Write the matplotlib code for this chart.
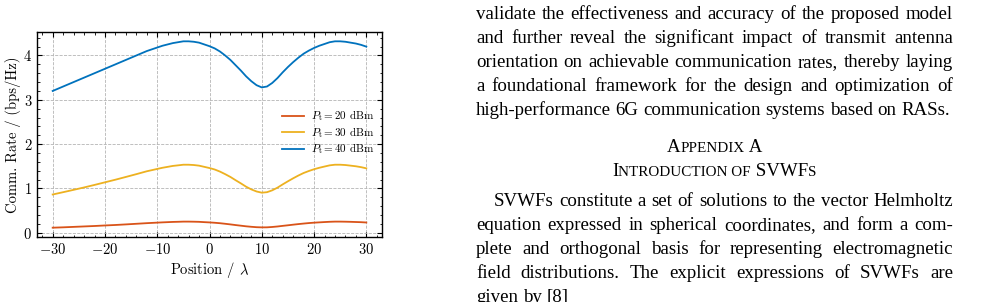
import numpy as np
import matplotlib
matplotlib.use('Agg')
import matplotlib.pyplot as plt
from matplotlib.ticker import MultipleLocator, FuncFormatter

# values
position = [-30, -28, -26, -24, -22, -20, -18, -16, -14, -12, -11, -10, -9, -8, -7, -6, -5, -4, -3, -2, -1, 0,
            1, 2, 3, 4, 5, 6, 7, 8, 9, 10, 11, 12, 13, 14, 15, 16, 17, 18, 19, 20,
            21, 22, 23, 24, 25, 26, 27, 28, 29, 30]
rate_40 = [3.20, 3.30, 3.40, 3.50, 3.60, 3.70, 3.80, 3.90, 4.00, 4.10, 4.14, 4.18, 4.22, 4.25, 4.28, 4.30,
           4.32, 4.32, 4.31, 4.29, 4.25, 4.21,
           4.16, 4.09, 4.00, 3.90, 3.78, 3.66, 3.53, 3.42, 3.33, 3.28, 3.30, 3.38, 3.49, 3.62, 3.74, 3.85,
           3.95, 4.04, 4.11, 4.17,
           4.22, 4.26, 4.30, 4.32, 4.32, 4.31, 4.29, 4.27, 4.24, 4.20]
rate_30 = [0.863, 0.915, 0.968, 1.022, 1.079, 1.138, 1.197, 1.259, 1.322, 1.387, 1.413, 1.440, 1.466, 1.487,
           1.508, 1.521, 1.535, 1.535, 1.528, 1.514, 1.487, 1.460,
           1.427, 1.380, 1.322, 1.259, 1.185, 1.114, 1.039, 0.978, 0.931, 0.904, 0.915, 0.957, 1.017, 1.091,
           1.161, 1.228, 1.291, 1.348, 1.393, 1.433,
           1.466, 1.494, 1.521, 1.535, 1.535, 1.528, 1.514, 1.500, 1.480, 1.453]
rate_20 = [0.114, 0.122, 0.132, 0.142, 0.152, 0.164, 0.175, 0.188, 0.202, 0.216, 0.222, 0.228, 0.234, 0.239,
           0.244, 0.247, 0.251, 0.251, 0.249, 0.246, 0.239, 0.233,
           0.225, 0.215, 0.202, 0.188, 0.173, 0.159, 0.145, 0.134, 0.125, 0.121, 0.122, 0.130, 0.141, 0.155,
           0.168, 0.182, 0.195, 0.207, 0.218, 0.227,
           0.234, 0.241, 0.247, 0.251, 0.251, 0.249, 0.246, 0.242, 0.238, 0.231]
labels = [r'$P_\mathrm{t} = 20$ dBm', r'$P_\mathrm{t} = 30$ dBm', r'$P_\mathrm{t} = 40$ dBm']
colors = ['#D95319', '#EDB120', '#0072BD']

body1 = ["validate the effectiveness and accuracy of the proposed model",
         "and further reveal the significant impact of transmit antenna",
         "orientation on achievable communication rates, thereby laying",
         "a foundational framework for the design and optimization of",
         "high-performance 6G communication systems based on RASs."]
body2 = ["SVWFs constitute a set of solutions to the vector Helmholtz",
         "equation expressed in spherical coordinates, and form a com-",
         "plete and orthogonal basis for representing electromagnetic",
         "field distributions. The explicit expressions of SVWFs are",
         "given by [8]"]
head1 = [("A", 1), ("PPENDIX", 0.8), (" A", 1)]
head2 = [("I", 1), ("NTRODUCTION OF", 0.8), (" SVWF", 1), ("S", 0.8)]

plt.rcParams['font.family'] = 'cmr10'
plt.rcParams['mathtext.fontset'] = 'cm'
plt.rcParams['axes.unicode_minus'] = True

W, H = 988, 302
fig = plt.figure(figsize=(W / 100, H / 100), dpi=100)
ax = fig.add_axes([37 / W, 1 - 237 / H, 345 / W, 205 / H])

ax.plot(position, rate_20, color=colors[0], lw=1.3, label=labels[0])
ax.plot(position, rate_30, color=colors[1], lw=1.3, label=labels[1])
ax.plot(position, rate_40, color=colors[2], lw=1.3, label=labels[2])

ax.xaxis.set_major_locator(MultipleLocator(10))
ax.xaxis.set_minor_locator(MultipleLocator(2))
ax.yaxis.set_major_locator(MultipleLocator(1))
ax.yaxis.set_minor_locator(MultipleLocator(0.2))
fmt = FuncFormatter(lambda v, p: r'$%d$' % round(v))
ax.xaxis.set_major_formatter(fmt)
ax.yaxis.set_major_formatter(fmt)
ax.tick_params(which='both', direction='in', top=True, right=True, labelsize=10.5)
ax.tick_params(which='major', length=3.5, width=0.8)
ax.tick_params(which='minor', length=1.8, width=0.6)
for s in ax.spines.values():
    s.set_linewidth(1.0)
ax.grid(True, which='major', linestyle='--', color='#b4b4b4', linewidth=0.6)
ax.set_xlabel(r'Position / $\lambda$', fontsize=10.5, labelpad=2)
ax.set_ylabel('Comm. Rate / (bps/Hz)', fontsize=10.5, labelpad=1.5)
ax.legend(loc='center right', bbox_to_anchor=(1.0, 0.51), frameon=False, fontsize=8,
          handlelength=2.0, handletextpad=0.6, labelspacing=0.15, borderaxespad=0.3)

# right column of the page
renderer = fig.canvas.get_renderer()
serif = 'Liberation Serif'
left, right = 476, 953


def width_of(t):
    return t.get_window_extent(renderer).width


probe = fig.text(0, 0, body1[4], family=serif, fontsize=10)
fs = 10 * 475 / width_of(probe)
probe.remove()


def put_line(line, base, x0, justify):
    words = line.split(' ')
    objs = [fig.text(0, 1 - base / H, w, family=serif, fontsize=fs, va='baseline') for w in words]
    widths = [width_of(o) for o in objs]
    space = fs * 100 / 72 * 0.25
    if justify and len(words) > 1:
        space = (right - x0 - sum(widths)) / (len(words) - 1)
    x = x0
    for o, w in zip(objs, widths):
        o.set_x(x / W)
        x += w + space


for i, line in enumerate(body1):
    put_line(line, 19 + 24 * i, left, i < 4)
for i, line in enumerate(body2):
    put_line(line, 206 + 24 * i, left + 18 if i == 0 else left, i < 4)


def put_head(parts, base):
    objs = [fig.text(0, 1 - base / H, s, family=serif, fontsize=fs * k, va='baseline') for s, k in parts]
    widths = [width_of(o) for o in objs]
    x = (left + right) / 2 - sum(widths) / 2
    for o, w in zip(objs, widths):
        o.set_x(x / W)
        x += w


put_head(head1, 152)
put_head(head2, 176)

fig.savefig('out.png', dpi=100)
